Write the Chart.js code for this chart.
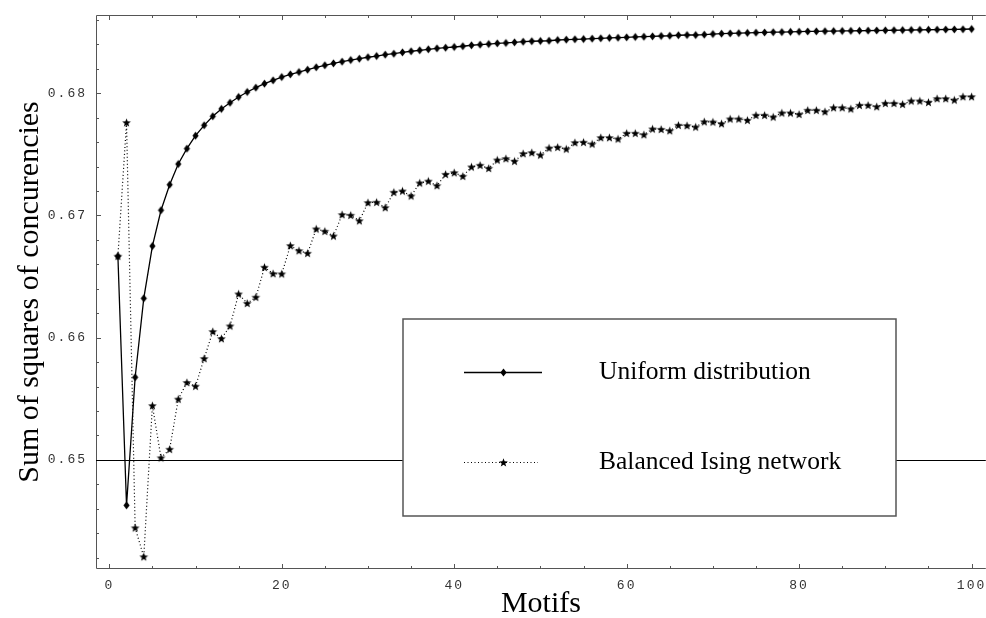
<!DOCTYPE html>
<html>
<head>
<meta charset="utf-8">
<script src="https://cdn.jsdelivr.net/npm/chart.js@4.4.1/dist/chart.umd.min.js"></script>
<style>
body { margin: 0; background: #fff; }
#wrap { width: 986px; height: 618px; }
</style>
</head>
<body>
<div id="wrap"><canvas id="chart" width="986" height="618"></canvas></div>
<script>
var motifs = [1,2,3,4,5,6,7,8,9,10,11,12,13,14,15,16,17,18,19,20,
	21,22,23,24,25,26,27,28,29,30,31,32,33,34,35,36,37,38,39,40,
	41,42,43,44,45,46,47,48,49,50,51,52,53,54,55,56,57,58,59,60,
	61,62,63,64,65,66,67,68,69,70,71,72,73,74,75,76,77,78,79,80,
	81,82,83,84,85,86,87,88,89,90,91,92,93,94,95,96,97,98,99,100];

var uniform = [
	0.66667, 0.64628, 0.65676, 0.66322, 0.66750, 0.67043, 0.67252, 0.67421, 0.67547, 0.67653,
	0.67738, 0.67812, 0.67872, 0.67923, 0.67970, 0.68011, 0.68046, 0.68079, 0.68106, 0.68133,
	0.68155, 0.68174, 0.68193, 0.68213, 0.68229, 0.68245, 0.68259, 0.68272, 0.68283, 0.68295,
	0.68305, 0.68316, 0.68324, 0.68335, 0.68344, 0.68352, 0.68360, 0.68368, 0.68373, 0.68379,
	0.68385, 0.68393, 0.68398, 0.68403, 0.68409, 0.68412, 0.68417, 0.68422, 0.68426, 0.68428,
	0.68430, 0.68436, 0.68439, 0.68442, 0.68444, 0.68447, 0.68450, 0.68453, 0.68455, 0.68458,
	0.68461, 0.68463, 0.68466, 0.68469, 0.68471, 0.68475, 0.68477, 0.68477, 0.68480, 0.68485,
	0.68488, 0.68490, 0.68492, 0.68494, 0.68496, 0.68498, 0.68500, 0.68501, 0.68503, 0.68504,
	0.68506, 0.68507, 0.68508, 0.68509, 0.68510, 0.68511, 0.68512, 0.68513, 0.68514, 0.68515,
	0.68516, 0.68517, 0.68518, 0.68519, 0.68520, 0.68521, 0.68522, 0.68523, 0.68524, 0.68526];

var balanced = [
	0.66667, 0.67760, 0.64444, 0.64207, 0.65444, 0.65017, 0.65087, 0.65497, 0.65633, 0.65603,
	0.65829, 0.66050, 0.65992, 0.66096, 0.66358, 0.66281, 0.66331, 0.66576, 0.66524, 0.66522,
	0.66753, 0.66712, 0.66691, 0.66890, 0.66871, 0.66832, 0.67007, 0.67002, 0.66957, 0.67105,
	0.67108, 0.67064, 0.67190, 0.67200, 0.67160, 0.67266, 0.67281, 0.67244, 0.67337, 0.67350,
	0.67321, 0.67397, 0.67411, 0.67386, 0.67454, 0.67465, 0.67444, 0.67506, 0.67514, 0.67495,
	0.67552, 0.67558, 0.67544, 0.67596, 0.67599, 0.67585, 0.67637, 0.67637, 0.67626, 0.67673,
	0.67673, 0.67661, 0.67708, 0.67705, 0.67694, 0.67738, 0.67735, 0.67724, 0.67767, 0.67765,
	0.67751, 0.67790, 0.67790, 0.67779, 0.67820, 0.67820, 0.67806, 0.67839, 0.67839, 0.67828,
	0.67861, 0.67861, 0.67849, 0.67882, 0.67882, 0.67872, 0.67902, 0.67902, 0.67890, 0.67918,
	0.67918, 0.67910, 0.67937, 0.67937, 0.67926, 0.67956, 0.67956, 0.67945, 0.67972, 0.67972];

var seriesNames = ['Uniform distribution', 'Balanced Ising network'];
var xTitle = 'Motifs';
var yTitle = 'Sum of squares of concurencies';

function toPoints(xs, ys)
{
	var pts = [];
	for (var i = 0; i < xs.length; i++) pts.push({x: xs[i], y: ys[i]});
	return pts;
}

// small filled markers, the built-in star is only strokes
function makeMarker(kind)
{
	var c = document.createElement('canvas');
	c.width = 11; c.height = 11;
	var g = c.getContext('2d');
	g.fillStyle = '#000';
	g.beginPath();
	if (kind == 'diamond') {
		g.moveTo(5.5, 1.5); g.lineTo(8.6, 5.5); g.lineTo(5.5, 9.5); g.lineTo(2.4, 5.5);
	} else {
		for (var k = 0; k < 10; k++) {
			var r = k % 2 ? 1.9 : 4.6;
			var a = -Math.PI / 2 + k * Math.PI / 5;
			var px = 5.5 + r * Math.cos(a), py = 5.9 + r * Math.sin(a);
			if (k == 0) g.moveTo(px, py); else g.lineTo(px, py);
		}
	}
	g.closePath();
	g.fill();
	return c;
}

var diamond = makeMarker('diamond');
var star = makeMarker('star');

var framePlugin = {
	id: 'frame',
	beforeDatasetsDraw: function(chart) {
		var ctx = chart.ctx, a = chart.chartArea, xs = chart.scales.x, ys = chart.scales.y;
		ctx.save();
		ctx.strokeStyle = '#555';
		ctx.lineWidth = 1;
		ctx.beginPath();
		ctx.moveTo(a.right, a.top + 0.5);
		ctx.lineTo(a.left + 0.5, a.top + 0.5);
		ctx.lineTo(a.left + 0.5, a.bottom - 0.5);
		ctx.lineTo(a.right, a.bottom - 0.5);
		for (var v = 0; v <= 100; v += 5) {
			var px = Math.round(xs.getPixelForValue(v)) + 0.5;
			var len = v % 20 == 0 ? 5 : 3;
			ctx.moveTo(px, a.bottom); ctx.lineTo(px, a.bottom - len);
			ctx.moveTo(px, a.top); ctx.lineTo(px, a.top + len);
		}
		for (var k = 321; k <= 343; k++) {
			var py = Math.round(ys.getPixelForValue(k * 0.002)) + 0.5;
			var l2 = k % 5 == 0 ? 5 : 3;
			ctx.moveTo(a.left, py); ctx.lineTo(a.left + l2, py);
		}
		ctx.stroke();
		// the horizontal axis line at 0.65
		ctx.strokeStyle = '#000';
		var y0 = Math.round(ys.getPixelForValue(0.65)) + 0.5;
		ctx.beginPath();
		ctx.moveTo(a.left, y0); ctx.lineTo(a.right, y0);
		ctx.stroke();
		ctx.restore();
	},
	afterDatasetsDraw: function(chart) {
		var ctx = chart.ctx;
		var ds = chart.data.datasets;
		ctx.save();
		ctx.fillStyle = '#fff';
		ctx.fillRect(403, 319, 493, 197);
		ctx.strokeStyle = '#555';
		ctx.lineWidth = 1.5;
		ctx.strokeRect(403, 319, 493, 197);
		var rows = [372, 462];
		for (var i = 0; i < ds.length; i++) {
			ctx.strokeStyle = '#000';
			ctx.lineWidth = ds[i].borderWidth;
			ctx.setLineDash(ds[i].borderDash || []);
			ctx.beginPath();
			ctx.moveTo(464, rows[i] + 0.5);
			ctx.lineTo(i == 0 ? 542 : 538, rows[i] + 0.5);
			ctx.stroke();
			ctx.setLineDash([]);
			ctx.drawImage(ds[i].pointStyle, 498, rows[i] - 5);
			ctx.fillStyle = '#000';
			ctx.font = '25.5px "Liberation Serif"';
			ctx.textBaseline = 'middle';
			ctx.textAlign = 'left';
			ctx.fillText(ds[i].label, 599, rows[i]);
		}
		ctx.restore();
		// tick labels are drawn after this with wide spacing
		ctx.letterSpacing = '2px';
	},
	afterDraw: function(chart) {
		chart.ctx.letterSpacing = '0px';
	}
};

var tickFont = {family: 'Liberation Mono', size: 13};
var titleFont = {family: 'Liberation Serif', size: 30, lineHeight: 1};

var ctx = document.getElementById('chart').getContext('2d');
var myChart = new Chart(ctx, {
	type: 'line',
	data: {
		datasets: [{
			label: seriesNames[0],
			data: toPoints(motifs, uniform),
			borderColor: '#000',
			backgroundColor: '#000',
			borderWidth: 1.3,
			pointStyle: diamond,
			pointRadius: 0.2,
			pointBorderWidth: 0,
			pointHoverRadius: 0.2,
			pointHitRadius: 0,
			tension: 0,
			fill: false
		}, {
			label: seriesNames[1],
			data: toPoints(motifs, balanced),
			borderColor: '#000',
			backgroundColor: '#000',
			borderWidth: 1.2,
			borderDash: [1, 2.5],
			pointStyle: star,
			pointRadius: 0.2,
			pointBorderWidth: 0,
			pointHoverRadius: 0.2,
			pointHitRadius: 0,
			tension: 0,
			fill: false
		}]
	},
	options: {
		responsive: false,
		animation: false,
		layout: {padding: {top: 15, right: 0, bottom: 0, left: 0}},
		plugins: {legend: {display: false}, tooltip: {enabled: false}},
		scales: {
			x: {
				type: 'linear', min: -1.54, max: 101.65,
				grid: {display: false, drawTicks: false},
				border: {display: false},
				ticks: {stepSize: 20, includeBounds: false, padding: 9, z: 1, color: '#333', font: tickFont, maxRotation: 0, autoSkip: false},
				title: {display: true, text: xTitle, color: '#000', font: titleFont, padding: {top: 0, bottom: -1}},
				afterFit: function(s) { s.height = 49; s.paddingLeft = 0; s.paddingRight = 0; }
			},
			y: {
				type: 'linear', min: 0.641072, max: 0.686407,
				grid: {display: false, drawTicks: false},
				border: {display: false},
				ticks: {stepSize: 0.01, includeBounds: false, padding: 9, z: 1, color: '#333', font: tickFont,
					callback: function(v) { return v.toFixed(2); }},
				title: {display: true, text: yTitle, color: '#000', font: titleFont, padding: {top: 15, bottom: 0}},
				afterFit: function(s) { s.width = 96; s.paddingTop = 0; s.paddingBottom = 0; }
			}
		}
	},
	plugins: [framePlugin]
});
</script>
</body>
</html>
